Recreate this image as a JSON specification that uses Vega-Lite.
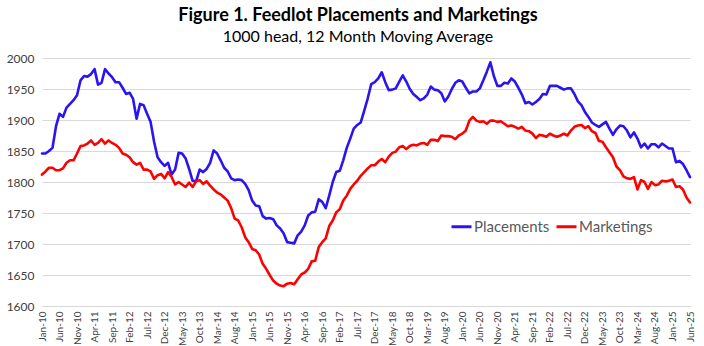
{
  "$schema": "https://vega.github.io/schema/vega-lite/v6.json",
  "width": 648,
  "height": 248,
  "autosize": {"type": "none"},
  "padding": {"left": 42, "top": 58, "right": 14, "bottom": 40},
  "background": "white",
  "title": {
    "text": "Figure 1. Feedlot Placements and Marketings",
    "subtitle": "1000 head, 12 Month Moving Average",
    "anchor": "middle",
    "dx": -8,
    "offset": 7,
    "font": "Lato",
    "fontSize": 18,
    "fontWeight": "bold",
    "color": "#000000",
    "subtitleFont": "Lato",
    "subtitleFontSize": 16,
    "subtitleColor": "#000000",
    "subtitlePadding": 4
  },
  "data": {
    "values": [
      {"m":"Jan-10","Placements":1846,"Marketings":1812},
      {"m":"Feb-10","Placements":1846,"Marketings":1817},
      {"m":"Mar-10","Placements":1850,"Marketings":1823},
      {"m":"Apr-10","Placements":1855,"Marketings":1823},
      {"m":"May-10","Placements":1890,"Marketings":1819},
      {"m":"Jun-10","Placements":1910,"Marketings":1819},
      {"m":"Jul-10","Placements":1905,"Marketings":1822},
      {"m":"Aug-10","Placements":1920,"Marketings":1831},
      {"m":"Sep-10","Placements":1926,"Marketings":1835},
      {"m":"Oct-10","Placements":1932,"Marketings":1835},
      {"m":"Nov-10","Placements":1940,"Marketings":1846},
      {"m":"Dec-10","Placements":1964,"Marketings":1858},
      {"m":"Jan-11","Placements":1971,"Marketings":1859},
      {"m":"Feb-11","Placements":1970,"Marketings":1862},
      {"m":"Mar-11","Placements":1974,"Marketings":1867},
      {"m":"Apr-11","Placements":1982,"Marketings":1860},
      {"m":"May-11","Placements":1957,"Marketings":1863},
      {"m":"Jun-11","Placements":1960,"Marketings":1869},
      {"m":"Jul-11","Placements":1982,"Marketings":1862},
      {"m":"Aug-11","Placements":1975,"Marketings":1867},
      {"m":"Sep-11","Placements":1969,"Marketings":1863},
      {"m":"Oct-11","Placements":1961,"Marketings":1860},
      {"m":"Nov-11","Placements":1961,"Marketings":1855},
      {"m":"Dec-11","Placements":1952,"Marketings":1846},
      {"m":"Jan-12","Placements":1942,"Marketings":1844},
      {"m":"Feb-12","Placements":1944,"Marketings":1840},
      {"m":"Mar-12","Placements":1934,"Marketings":1832},
      {"m":"Apr-12","Placements":1902,"Marketings":1828},
      {"m":"May-12","Placements":1926,"Marketings":1831},
      {"m":"Jun-12","Placements":1924,"Marketings":1820},
      {"m":"Jul-12","Placements":1910,"Marketings":1820},
      {"m":"Aug-12","Placements":1897,"Marketings":1817},
      {"m":"Sep-12","Placements":1865,"Marketings":1805},
      {"m":"Oct-12","Placements":1840,"Marketings":1811},
      {"m":"Nov-12","Placements":1832,"Marketings":1813},
      {"m":"Dec-12","Placements":1826,"Marketings":1806},
      {"m":"Jan-13","Placements":1831,"Marketings":1816},
      {"m":"Feb-13","Placements":1812,"Marketings":1808},
      {"m":"Mar-13","Placements":1820,"Marketings":1796},
      {"m":"Apr-13","Placements":1847,"Marketings":1800},
      {"m":"May-13","Placements":1846,"Marketings":1796},
      {"m":"Jun-13","Placements":1838,"Marketings":1792},
      {"m":"Jul-13","Placements":1821,"Marketings":1799},
      {"m":"Aug-13","Placements":1802,"Marketings":1792},
      {"m":"Sep-13","Placements":1801,"Marketings":1801},
      {"m":"Oct-13","Placements":1820,"Marketings":1803},
      {"m":"Nov-13","Placements":1816,"Marketings":1797},
      {"m":"Dec-13","Placements":1821,"Marketings":1801},
      {"m":"Jan-14","Placements":1831,"Marketings":1794},
      {"m":"Feb-14","Placements":1851,"Marketings":1788},
      {"m":"Mar-14","Placements":1846,"Marketings":1783},
      {"m":"Apr-14","Placements":1835,"Marketings":1780},
      {"m":"May-14","Placements":1823,"Marketings":1775},
      {"m":"Jun-14","Placements":1817,"Marketings":1770},
      {"m":"Jul-14","Placements":1806,"Marketings":1758},
      {"m":"Aug-14","Placements":1803,"Marketings":1741},
      {"m":"Sep-14","Placements":1804,"Marketings":1738},
      {"m":"Oct-14","Placements":1803,"Marketings":1727},
      {"m":"Nov-14","Placements":1797,"Marketings":1711},
      {"m":"Dec-14","Placements":1787,"Marketings":1703},
      {"m":"Jan-15","Placements":1770,"Marketings":1692},
      {"m":"Feb-15","Placements":1762,"Marketings":1690},
      {"m":"Mar-15","Placements":1761,"Marketings":1683},
      {"m":"Apr-15","Placements":1745,"Marketings":1668},
      {"m":"May-15","Placements":1741,"Marketings":1660},
      {"m":"Jun-15","Placements":1742,"Marketings":1650},
      {"m":"Jul-15","Placements":1740,"Marketings":1641},
      {"m":"Aug-15","Placements":1730,"Marketings":1636},
      {"m":"Sep-15","Placements":1725,"Marketings":1633},
      {"m":"Oct-15","Placements":1717,"Marketings":1632},
      {"m":"Nov-15","Placements":1703,"Marketings":1636},
      {"m":"Dec-15","Placements":1702,"Marketings":1637},
      {"m":"Jan-16","Placements":1701,"Marketings":1635},
      {"m":"Feb-16","Placements":1714,"Marketings":1643},
      {"m":"Mar-16","Placements":1720,"Marketings":1651},
      {"m":"Apr-16","Placements":1730,"Marketings":1654},
      {"m":"May-16","Placements":1746,"Marketings":1660},
      {"m":"Jun-16","Placements":1751,"Marketings":1672},
      {"m":"Jul-16","Placements":1752,"Marketings":1673},
      {"m":"Aug-16","Placements":1772,"Marketings":1695},
      {"m":"Sep-16","Placements":1768,"Marketings":1703},
      {"m":"Oct-16","Placements":1758,"Marketings":1709},
      {"m":"Nov-16","Placements":1778,"Marketings":1729},
      {"m":"Dec-16","Placements":1800,"Marketings":1738},
      {"m":"Jan-17","Placements":1816,"Marketings":1751},
      {"m":"Feb-17","Placements":1818,"Marketings":1756},
      {"m":"Mar-17","Placements":1835,"Marketings":1770},
      {"m":"Apr-17","Placements":1855,"Marketings":1778},
      {"m":"May-17","Placements":1870,"Marketings":1789},
      {"m":"Jun-17","Placements":1886,"Marketings":1796},
      {"m":"Jul-17","Placements":1892,"Marketings":1802},
      {"m":"Aug-17","Placements":1896,"Marketings":1810},
      {"m":"Sep-17","Placements":1915,"Marketings":1816},
      {"m":"Oct-17","Placements":1935,"Marketings":1822},
      {"m":"Nov-17","Placements":1958,"Marketings":1827},
      {"m":"Dec-17","Placements":1961,"Marketings":1827},
      {"m":"Jan-18","Placements":1967,"Marketings":1833},
      {"m":"Feb-18","Placements":1977,"Marketings":1837},
      {"m":"Mar-18","Placements":1961,"Marketings":1832},
      {"m":"Apr-18","Placements":1948,"Marketings":1841},
      {"m":"May-18","Placements":1949,"Marketings":1847},
      {"m":"Jun-18","Placements":1951,"Marketings":1849},
      {"m":"Jul-18","Placements":1962,"Marketings":1856},
      {"m":"Aug-18","Placements":1972,"Marketings":1858},
      {"m":"Sep-18","Placements":1962,"Marketings":1853},
      {"m":"Oct-18","Placements":1950,"Marketings":1858},
      {"m":"Nov-18","Placements":1942,"Marketings":1860},
      {"m":"Dec-18","Placements":1937,"Marketings":1859},
      {"m":"Jan-19","Placements":1932,"Marketings":1862},
      {"m":"Feb-19","Placements":1935,"Marketings":1863},
      {"m":"Mar-19","Placements":1941,"Marketings":1860},
      {"m":"Apr-19","Placements":1954,"Marketings":1868},
      {"m":"May-19","Placements":1949,"Marketings":1868},
      {"m":"Jun-19","Placements":1948,"Marketings":1866},
      {"m":"Jul-19","Placements":1943,"Marketings":1875},
      {"m":"Aug-19","Placements":1930,"Marketings":1874},
      {"m":"Sep-19","Placements":1938,"Marketings":1874},
      {"m":"Oct-19","Placements":1950,"Marketings":1873},
      {"m":"Nov-19","Placements":1960,"Marketings":1869},
      {"m":"Dec-19","Placements":1964,"Marketings":1875},
      {"m":"Jan-20","Placements":1962,"Marketings":1878},
      {"m":"Feb-20","Placements":1952,"Marketings":1883},
      {"m":"Mar-20","Placements":1943,"Marketings":1899},
      {"m":"Apr-20","Placements":1946,"Marketings":1905},
      {"m":"May-20","Placements":1946,"Marketings":1899},
      {"m":"Jun-20","Placements":1951,"Marketings":1897},
      {"m":"Jul-20","Placements":1964,"Marketings":1898},
      {"m":"Aug-20","Placements":1978,"Marketings":1894},
      {"m":"Sep-20","Placements":1993,"Marketings":1899},
      {"m":"Oct-20","Placements":1971,"Marketings":1899},
      {"m":"Nov-20","Placements":1955,"Marketings":1897},
      {"m":"Dec-20","Placements":1955,"Marketings":1898},
      {"m":"Jan-21","Placements":1960,"Marketings":1894},
      {"m":"Feb-21","Placements":1959,"Marketings":1890},
      {"m":"Mar-21","Placements":1967,"Marketings":1891},
      {"m":"Apr-21","Placements":1962,"Marketings":1889},
      {"m":"May-21","Placements":1952,"Marketings":1886},
      {"m":"Jun-21","Placements":1941,"Marketings":1889},
      {"m":"Jul-21","Placements":1927,"Marketings":1883},
      {"m":"Aug-21","Placements":1929,"Marketings":1882},
      {"m":"Sep-21","Placements":1925,"Marketings":1878},
      {"m":"Oct-21","Placements":1929,"Marketings":1871},
      {"m":"Nov-21","Placements":1934,"Marketings":1876},
      {"m":"Dec-21","Placements":1942,"Marketings":1875},
      {"m":"Jan-22","Placements":1941,"Marketings":1873},
      {"m":"Feb-22","Placements":1955,"Marketings":1878},
      {"m":"Mar-22","Placements":1955,"Marketings":1875},
      {"m":"Apr-22","Placements":1955,"Marketings":1873},
      {"m":"May-22","Placements":1952,"Marketings":1875},
      {"m":"Jun-22","Placements":1949,"Marketings":1878},
      {"m":"Jul-22","Placements":1951,"Marketings":1875},
      {"m":"Aug-22","Placements":1951,"Marketings":1883},
      {"m":"Sep-22","Placements":1942,"Marketings":1889},
      {"m":"Oct-22","Placements":1930,"Marketings":1891},
      {"m":"Nov-22","Placements":1924,"Marketings":1892},
      {"m":"Dec-22","Placements":1913,"Marketings":1887},
      {"m":"Jan-23","Placements":1905,"Marketings":1890},
      {"m":"Feb-23","Placements":1896,"Marketings":1882},
      {"m":"Mar-23","Placements":1892,"Marketings":1879},
      {"m":"Apr-23","Placements":1889,"Marketings":1866},
      {"m":"May-23","Placements":1893,"Marketings":1865},
      {"m":"Jun-23","Placements":1897,"Marketings":1856},
      {"m":"Jul-23","Placements":1886,"Marketings":1848},
      {"m":"Aug-23","Placements":1876,"Marketings":1840},
      {"m":"Sep-23","Placements":1885,"Marketings":1825},
      {"m":"Oct-23","Placements":1891,"Marketings":1819},
      {"m":"Nov-23","Placements":1890,"Marketings":1809},
      {"m":"Dec-23","Placements":1883,"Marketings":1806},
      {"m":"Jan-24","Placements":1872,"Marketings":1805},
      {"m":"Feb-24","Placements":1880,"Marketings":1808},
      {"m":"Mar-24","Placements":1870,"Marketings":1788},
      {"m":"Apr-24","Placements":1856,"Marketings":1803},
      {"m":"May-24","Placements":1862,"Marketings":1800},
      {"m":"Jun-24","Placements":1854,"Marketings":1789},
      {"m":"Jul-24","Placements":1861,"Marketings":1800},
      {"m":"Aug-24","Placements":1861,"Marketings":1795},
      {"m":"Sep-24","Placements":1856,"Marketings":1796},
      {"m":"Oct-24","Placements":1862,"Marketings":1802},
      {"m":"Nov-24","Placements":1858,"Marketings":1801},
      {"m":"Dec-24","Placements":1854,"Marketings":1802},
      {"m":"Jan-25","Placements":1854,"Marketings":1804},
      {"m":"Feb-25","Placements":1832,"Marketings":1792},
      {"m":"Mar-25","Placements":1834,"Marketings":1793},
      {"m":"Apr-25","Placements":1829,"Marketings":1788},
      {"m":"May-25","Placements":1819,"Marketings":1775},
      {"m":"Jun-25","Placements":1808,"Marketings":1767}
    ]
  },
  "transform": [{"fold": ["Placements", "Marketings"], "as": ["series", "value"]}],
  "mark": {"type": "line", "strokeWidth": 2.6, "strokeJoin": "round", "strokeCap": "round"},
  "encoding": {
    "x": {
      "field": "m",
      "type": "ordinal",
      "sort": null,
      "scale": {"type": "point", "padding": 0},
      "axis": {
        "title": null,
        "values": ["Jan-10","Jun-10","Nov-10","Apr-11","Sep-11","Feb-12","Jul-12","Dec-12","May-13","Oct-13","Mar-14","Aug-14","Jan-15","Jun-15","Nov-15","Apr-16","Sep-16","Feb-17","Jul-17","Dec-17","May-18","Oct-18","Mar-19","Aug-19","Jan-20","Jun-20","Nov-20","Apr-21","Sep-21","Feb-22","Jul-22","Dec-22","May-23","Oct-23","Mar-24","Aug-24","Jan-25","Jun-25"],
        "labelAngle": 270,
        "labelAlign": "right",
        "labelBaseline": "middle",
        "labelFont": "Lato",
        "labelFontSize": 10,
        "labelColor": "#404040",
        "labelPadding": 5,
        "ticks": false,
        "domain": true,
        "domainColor": "#d9d9d9",
        "domainWidth": 1,
        "grid": false,
        "labelOverlap": false
      }
    },
    "y": {
      "field": "value",
      "type": "quantitative",
      "scale": {"domain": [1600, 2000], "nice": false, "zero": false},
      "axis": {
        "title": null,
        "format": "d",
        "values": [1600, 1650, 1700, 1750, 1800, 1850, 1900, 1950, 2000],
        "labelFont": "Lato",
        "labelFontSize": 12,
        "labelColor": "#404040",
        "labelPadding": 8,
        "ticks": false,
        "domain": false,
        "grid": true,
        "gridColor": "#d9d9d9",
        "gridWidth": 1
      }
    },
    "color": {
      "field": "series",
      "type": "nominal",
      "scale": {"domain": ["Placements", "Marketings"], "range": ["#2A14F0", "#FF0000"]},
      "legend": {
        "title": null,
        "orient": "none",
        "direction": "horizontal",
        "legendX": 408,
        "legendY": 157,
        "symbolType": "stroke",
        "symbolStrokeWidth": 3,
        "symbolSize": 400,
        "labelFont": "Lato",
        "labelFontSize": 15,
        "labelColor": "#595959",
        "labelOffset": 1,
        "columnPadding": 0
      }
    }
  },
  "config": {"view": {"stroke": null}}
}
